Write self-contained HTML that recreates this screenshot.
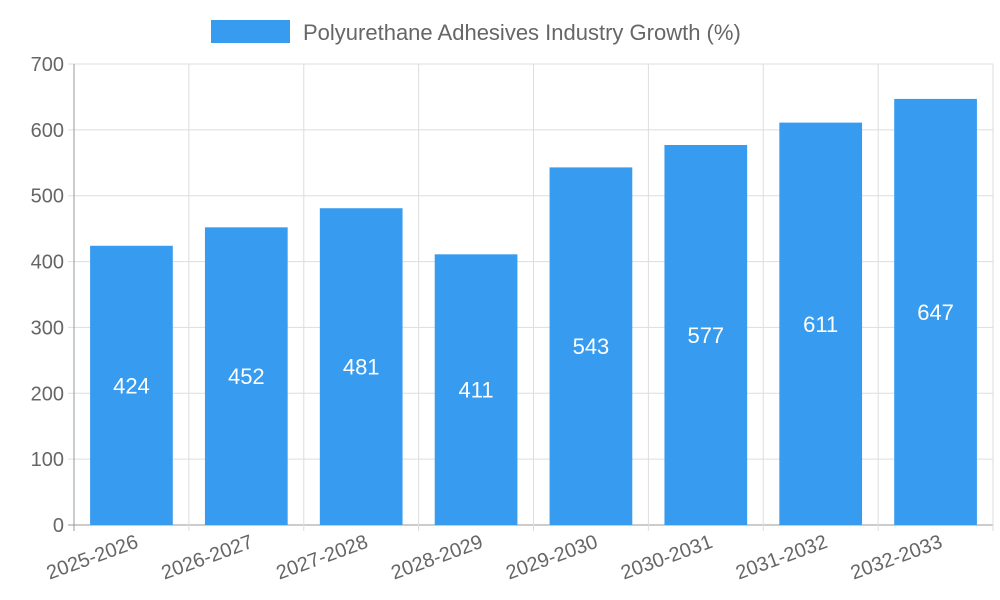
<!DOCTYPE html>
<html><head><meta charset="utf-8"><style>
body{margin:0;background:#fff;}
svg{display:block;font-family:"Liberation Sans",sans-serif;}
</style></head><body>
<svg id="chart" width="1000" height="600" viewBox="0 0 1000 600">
<g>
<rect x="211" y="20" width="79" height="23" fill="#379bef"/>
<text x="303" y="40" font-size="22" fill="#666">Polyurethane Adhesives Industry Growth (%)</text>
</g>
<g id="grid"></g>
<g id="bars"></g>
<g id="axes"></g>
</svg>
<script>
const categories=["2025-2026","2026-2027","2027-2028","2028-2029","2029-2030","2030-2031","2031-2032","2032-2033"];
const values=[424,452,481,411,543,577,611,647];
const yTicks=[0,100,200,300,400,500,600,700];
const NS="http://www.w3.org/2000/svg";
const L=74,R=993,T=64,B=525,YMAX=700;
const bw=(R-L)/categories.length;
function y(v){return B-(v/YMAX)*(B-T);}
function x(i){return L+i*bw;}
function mk(tag,attrs,parent,text){const e=document.createElementNS(NS,tag);for(const k in attrs)e.setAttribute(k,attrs[k]);if(text!==undefined)e.textContent=text;parent.appendChild(e);return e;}
const grid=document.getElementById('grid'),bars=document.getElementById('bars'),axes=document.getElementById('axes');
yTicks.forEach(t=>{
 const ln=mk('line',{x1:L-6,x2:R,y1:y(t),y2:y(t),stroke:t===0?'#999':'#ddd','stroke-width':1},grid);
 
 
 const tx=mk('text',{x:L-10,y:y(t)+7,'text-anchor':'end','font-size':20,fill:'#666'},axes,String(t));
 
 
});
for(let i=0;i<=categories.length;i++){
 const ln=mk('line',{x1:x(i),x2:x(i),y1:T,y2:B+6,stroke:i===0?'#999':'#ddd','stroke-width':1},grid);
 
 
}
categories.forEach((c,i)=>{
 const v=values[i];
 const bx=x(i)+bw*0.14,w=bw*0.72;
 const r=mk('rect',{x:bx,y:y(v),width:w,height:B-y(v),fill:'#379bef'},bars);
 
 
 const t=mk('text',{x:bx+w/2,y:(y(v)+B)/2+8,'text-anchor':'middle','font-size':22,fill:'#fff'},bars,String(v));
 
 
 const cx=x(i)+bw/2+8,cy=B+22;
 const lab=mk('text',{x:cx,y:cy,'text-anchor':'end','font-size':20,fill:'#666',transform:`rotate(-20 ${cx} ${cy})`},axes,c);
 
 
});
</script>
</body></html>
